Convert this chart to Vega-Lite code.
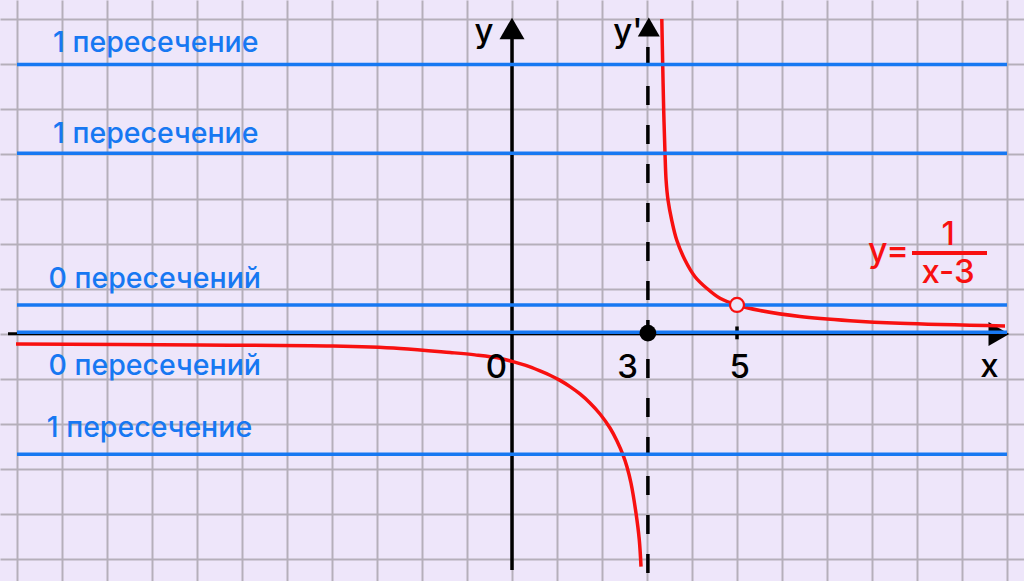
{
  "$schema": "https://vega.github.io/schema/vega-lite/v6.json",
  "width": 1024,
  "height": 581,
  "autosize": {"type": "none"},
  "padding": 0,
  "background": "#EEE6FA",
  "config": {"view": {"stroke": null}},
  "datasets": {
    "xaxis": [{"x": -11.2, "x2": 10.6, "y": 0.004}],
    "yaxis": [{"x": 0, "y": 6.6, "y2": -5.244}],
    "asym": [{"x": 3.02, "y": 6.378, "y2": -5.49}],
    "arrowUp": [{"x": 0, "y": 6.789}],
    "arrowUp2": [{"x": 3.04, "y": 6.82}],
    "arrowRight": [{"x": 10.82, "y": 0}],
    "curve": [
      {"b": "left", "x": -11.022, "y": -0.222},
      {"b": "left", "x": -6.933, "y": -0.244},
      {"b": "left", "x": -3.978, "y": -0.267},
      {"b": "left", "x": -2.489, "y": -0.32},
      {"b": "left", "x": -1.378, "y": -0.411},
      {"b": "left", "x": -0.822, "y": -0.464},
      {"b": "left", "x": -0.267, "y": -0.538},
      {"b": "left", "x": 0, "y": -0.609},
      {"b": "left", "x": 0.289, "y": -0.693},
      {"b": "left", "x": 0.622, "y": -0.82},
      {"b": "left", "x": 0.844, "y": -0.916},
      {"b": "left", "x": 1.067, "y": -1.031},
      {"b": "left", "x": 1.289, "y": -1.169},
      {"b": "left", "x": 1.511, "y": -1.333},
      {"b": "left", "x": 1.733, "y": -1.533},
      {"b": "left", "x": 1.956, "y": -1.778},
      {"b": "left", "x": 2.178, "y": -2.089},
      {"b": "left", "x": 2.333, "y": -2.378},
      {"b": "left", "x": 2.473, "y": -2.704},
      {"b": "left", "x": 2.556, "y": -2.956},
      {"b": "left", "x": 2.644, "y": -3.311},
      {"b": "left", "x": 2.756, "y": -3.984},
      {"b": "left", "x": 2.829, "y": -4.578},
      {"b": "left", "x": 2.867, "y": -5.171},
      {"b": "right", "x": 3.329, "y": 7.0},
      {"b": "right", "x": 3.349, "y": 6.0},
      {"b": "right", "x": 3.371, "y": 4.978},
      {"b": "right", "x": 3.4, "y": 4.022},
      {"b": "right", "x": 3.424, "y": 3.422},
      {"b": "right", "x": 3.467, "y": 2.978},
      {"b": "right", "x": 3.549, "y": 2.533},
      {"b": "right", "x": 3.66, "y": 2.089},
      {"b": "right", "x": 3.844, "y": 1.644},
      {"b": "right", "x": 4.067, "y": 1.273},
      {"b": "right", "x": 4.327, "y": 1.016},
      {"b": "right", "x": 4.622, "y": 0.793},
      {"b": "right", "x": 5.0, "y": 0.644},
      {"b": "right", "x": 5.511, "y": 0.522},
      {"b": "right", "x": 6.4, "y": 0.389},
      {"b": "right", "x": 7.511, "y": 0.296},
      {"b": "right", "x": 8.622, "y": 0.238},
      {"b": "right", "x": 10.956, "y": 0.178}
    ],
    "tick5": [{"x": 5, "y": 0.167, "y2": -0.118}],
    "hlines": [
      {"x": -11, "x2": 11, "y": 5.99},
      {"x": -11, "x2": 11, "y": 4.015},
      {"x": -11, "x2": 11, "y": 0.645},
      {"x": -11, "x2": 11, "y": 0.038},
      {"x": -11, "x2": 11, "y": -2.674}
    ],
    "hole": [{"x": 5, "y": 0.645}],
    "dot": [{"x": 3.02, "y": 0.02}],
    "blabels": [
      {"x": -10.2, "y": 6.26, "label": "1 пересечение"},
      {"x": -10.2, "y": 4.251, "label": "1 пересечение"},
      {"x": -10.3, "y": 1.015, "label": "0 пересечений"},
      {"x": -10.3, "y": -0.911, "label": "0 пересечений"},
      {"x": -10.34, "y": -2.282, "label": "1 пересечение"}
    ],
    "klabels": [
      {"x": -0.622, "y": 6.478, "label": "y"},
      {"x": 2.578, "y": 6.478, "label": "y'"},
      {"x": -0.349, "y": -0.978, "label": "0"},
      {"x": 2.567, "y": -0.978, "label": "3"},
      {"x": 5.06, "y": -0.978, "label": "5"},
      {"x": 10.61, "y": -0.956, "label": "x"}
    ],
    "fy": [{"x": 8.367, "y": 1.6, "label": "y="}],
    "fnum": [{"x": 9.69, "y": 1.978, "label": "1"}],
    "fden": [{"x": 9.69, "y": 1.144, "label": "x-3"}],
    "fbar": [{"x": 8.889, "x2": 10.556, "y": 1.8}]
  },
  "encoding": {
    "x": {
      "field": "x",
      "type": "quantitative",
      "scale": {"domain": [-11.378, 11.378], "nice": false, "zero": false},
      "axis": {
        "values": [-11, -10, -9, -8, -7, -6, -5, -4, -3, -2, -1, 0, 1, 2, 3, 4, 5, 6, 7, 8, 9, 10, 11],
        "grid": true, "labels": false, "ticks": false, "domain": false, "title": null,
        "gridColor": "#B5AFBA", "gridWidth": 2
      }
    },
    "y": {
      "field": "y",
      "type": "quantitative",
      "scale": {"domain": [-5.489, 7.422], "nice": false, "zero": false},
      "axis": {
        "values": [-5, -4, -3, -2, -1, 0, 1, 2, 3, 4, 5, 6, 7],
        "grid": true, "labels": false, "ticks": false, "domain": false, "title": null,
        "gridColor": "#B5AFBA", "gridWidth": 2
      }
    }
  },
  "layer": [
    {
      "data": {"name": "xaxis"},
      "mark": {"type": "rule", "color": "#000000", "strokeWidth": 3},
      "encoding": {"x2": {"field": "x2"}}
    },
    {
      "data": {"name": "yaxis"},
      "mark": {"type": "rule", "color": "#000000", "strokeWidth": 3.5},
      "encoding": {"y2": {"field": "y2"}}
    },
    {
      "data": {"name": "asym"},
      "mark": {"type": "rule", "color": "#000000", "strokeWidth": 3.5, "strokeDash": [19, 20]},
      "encoding": {"y2": {"field": "y2"}}
    },
    {
      "data": {"name": "arrowUp"},
      "mark": {"type": "point", "shape": "triangle-up", "filled": true, "size": 625, "color": "#000000", "opacity": 1}
    },
    {
      "data": {"name": "arrowUp2"},
      "mark": {"type": "point", "shape": "triangle-up", "filled": true, "size": 484, "color": "#000000", "opacity": 1}
    },
    {
      "data": {"name": "arrowRight"},
      "mark": {"type": "point", "shape": "triangle-right", "filled": true, "size": 576, "color": "#000000", "opacity": 1}
    },
    {
      "data": {"name": "curve"},
      "mark": {"type": "line", "color": "#F81010", "strokeWidth": 3.5, "interpolate": "catmull-rom"},
      "encoding": {"detail": {"field": "b"}}
    },
    {
      "data": {"name": "tick5"},
      "mark": {"type": "rule", "color": "#000000", "strokeWidth": 3.5},
      "encoding": {"y2": {"field": "y2"}}
    },
    {
      "data": {"name": "hlines"},
      "mark": {"type": "rule", "color": "#1778F2", "strokeWidth": 3.5},
      "encoding": {"x2": {"field": "x2"}}
    },
    {
      "data": {"name": "hole"},
      "mark": {"type": "point", "shape": "circle", "filled": true, "size": 196, "fill": "#EEE6FA", "stroke": "#F81010", "strokeWidth": 2.2, "opacity": 1}
    },
    {
      "data": {"name": "dot"},
      "mark": {"type": "point", "shape": "circle", "filled": true, "size": 283, "color": "#000000", "opacity": 1}
    },
    {
      "data": {"name": "fbar"},
      "mark": {"type": "rule", "color": "#F81010", "strokeWidth": 4},
      "encoding": {"x2": {"field": "x2"}}
    },
    {
      "data": {"name": "blabels"},
      "mark": {"type": "text", "align": "left", "baseline": "alphabetic", "font": "Inter", "fontSize": 28.5, "fontWeight": 500, "color": "#1778F2"},
      "encoding": {"text": {"field": "label"}}
    },
    {
      "data": {"name": "klabels"},
      "mark": {"type": "text", "align": "center", "baseline": "alphabetic", "font": "Inter", "fontSize": 33, "fontWeight": 500, "color": "#000000"},
      "encoding": {"text": {"field": "label"}}
    },
    {
      "data": {"name": "fy"},
      "mark": {"type": "text", "align": "center", "baseline": "alphabetic", "font": "Inter", "fontSize": 34, "fontWeight": 500, "color": "#F81010"},
      "encoding": {"text": {"field": "label"}}
    },
    {
      "data": {"name": "fnum"},
      "mark": {"type": "text", "align": "center", "baseline": "alphabetic", "font": "Inter", "fontSize": 32, "fontWeight": 500, "color": "#F81010"},
      "encoding": {"text": {"field": "label"}}
    },
    {
      "data": {"name": "fden"},
      "mark": {"type": "text", "align": "center", "baseline": "alphabetic", "font": "Inter", "fontSize": 33, "fontWeight": 500, "color": "#F81010"},
      "encoding": {"text": {"field": "label"}}
    }
  ]
}
